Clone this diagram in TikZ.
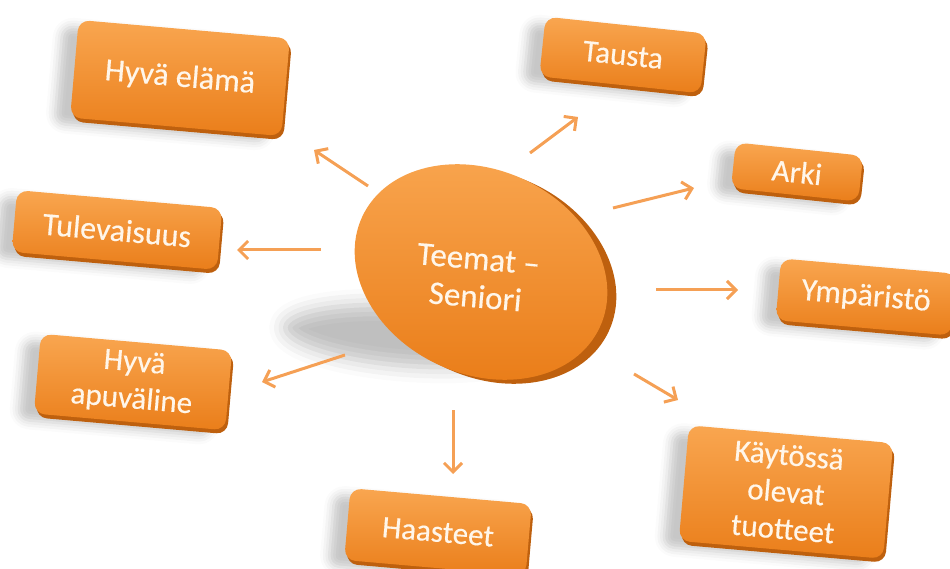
\documentclass[tikz,border=0pt]{standalone}
\usepackage{fontspec}
\setmainfont{Carlito}[FakeBold=0.4]
\usetikzlibrary{arrows.meta,shapes.geometric,shadows,shadows.blur}

\definecolor{boxtop}{HTML}{F9A650}
\definecolor{boxmid}{HTML}{F28C28}
\definecolor{boxbot}{HTML}{EA7E1A}
\definecolor{boxrim}{HTML}{BE600E}
\definecolor{arrowc}{HTML}{F5A055}
\definecolor{labelc}{HTML}{FFF6EA}

\tikzset{
  themebox/.style={rounded corners=11pt, top color=boxtop, middle color=boxmid,
    bottom color=boxbot, text=labelc, align=center, inner sep=0pt,
    font=\fontsize{31}{37}\selectfont,
    blur shadow={shadow xshift=-16pt, shadow yshift=-6pt, shadow blur radius=9pt, shadow opacity=22},
    copy shadow={shadow xshift=2pt, shadow yshift=-4pt, fill=boxrim, draw=none}},
  link/.style={draw=arrowc, line width=3pt,
    -{Straight Barb[length=9pt, width=18pt, line width=3pt]}},
  hubdisc/.style={ellipse, minimum width=262pt, minimum height=204pt, rotate=-25, inner sep=0pt}
}

\begin{document}
\begin{tikzpicture}[x=1pt, y=-1pt]
\useasboundingbox (0,0) rectangle (950,569);

% soft shadow under the central disc
\node[ellipse, minimum width=250pt, minimum height=60pt, rotate=-4,
  blur shadow={shadow xshift=0pt, shadow yshift=0pt, shadow blur radius=16pt, shadow opacity=25}]
  (hubshadow) at (410,336) {};

% central disc: dark rim, then the face
\node[hubdisc, fill=boxrim] (hubrim) at (490,276) {};
\node[hubdisc, top color=boxtop, middle color=boxmid, bottom color=boxbot] (hub) at (481,272) {};
\node[text=labelc, align=center, rotate=-5, font=\fontsize{33}{38}\selectfont] (hublabel) at (477,278) {Teemat –\\Seniori};

% theme boxes
\node[themebox, minimum width=212pt, minimum height=98pt, rotate=-5, font=\fontsize{32}{37}\selectfont] (hyva) at (180,78) {Hyvä elämä};
\node[themebox, minimum width=162pt, minimum height=60pt, rotate=-6] (tausta) at (623,55) {Tausta};
\node[themebox, minimum width=128pt, minimum height=46pt, rotate=-6] (arki) at (797,172) {Arki};
\node[themebox, minimum width=176pt, minimum height=62pt, rotate=-5, font=\fontsize{32}{37}\selectfont] (ymp) at (866,297) {Ympäristö};
\node[themebox, minimum width=205pt, minimum height=116pt, rotate=-5] (kayt) at (786,492) {Käytössä\\olevat\\tuotteet};
\node[themebox, minimum width=182pt, minimum height=72pt, rotate=-5] (haast) at (438,532) {Haasteet};
\node[themebox, minimum width=192pt, minimum height=80pt, rotate=-5] (apu) at (133,382) {Hyvä\\apuväline};
\node[themebox, minimum width=206pt, minimum height=62pt, rotate=-5, font=\fontsize{32}{37}\selectfont] (tulev) at (117,230) {Tulevaisuus};

% arrow end points
\coordinate (s1) at (368,186); \coordinate (e1) at (314,150);
\coordinate (s2) at (530,153); \coordinate (e2) at (578,117);
\coordinate (s3) at (613,208); \coordinate (e3) at (694,188);
\coordinate (s4) at (656,290); \coordinate (e4) at (738,290);
\coordinate (s5) at (634,374); \coordinate (e5) at (678,400);
\coordinate (s6) at (453,410); \coordinate (e6) at (453,474);
\coordinate (s7) at (345,355); \coordinate (e7) at (262,382);
\coordinate (s8) at (321,250); \coordinate (e8) at (237,250);

\foreach \i in {1,...,8} \draw[link] (s\i) -- (e\i);
\end{tikzpicture}
\end{document}
